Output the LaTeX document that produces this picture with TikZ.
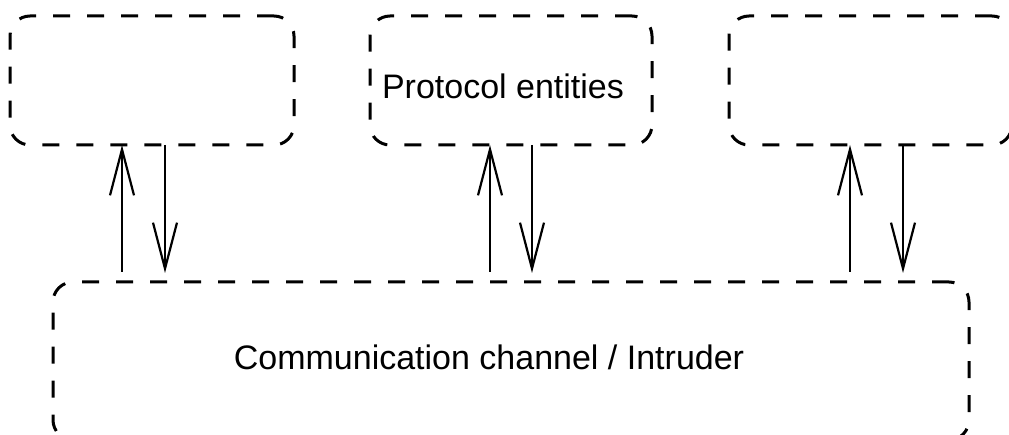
\documentclass[tikz,border=0pt]{standalone}
\usepackage{fontspec}
\setmainfont{Liberation Sans}
\usetikzlibrary{arrows.meta}
\begin{document}
\begin{tikzpicture}[x=1pt,y=-1pt,
  entity/.style={draw, line width=3pt, rounded corners=20pt,
    dash pattern=on 17pt off 17pt, inner sep=0pt, outer sep=0pt},
  msg/.style={line width=2.2pt, -{Straight Barb[length=46pt,width=24pt,line width=2.2pt]}},
  txt/.style={font=\fontsize{34}{41}\selectfont, inner sep=0pt}]
\useasboundingbox (0,0) rectangle (1009,435);
\clip (0,0) rectangle (1009,435);
% protocol entities
\node[entity, minimum width=284pt, minimum height=129pt] (e1) at (152,80.5) {};
\node[entity, minimum width=282pt, minimum height=129pt] (e2) at (511,80.5) {};
\node[entity, minimum width=283pt, minimum height=129pt] (e3) at (870.5,80.5) {};
\node[txt] (lbl) at (503,86) {Protocol entities};
% channel
\node[entity, minimum width=916pt, minimum height=158pt] (ch) at (511,361) {};
\node[txt] (chl) at (489,357) {Communication channel / Intruder};
% messages in both directions
\draw[msg, shorten <=10pt] (122,0 |- ch.north) -- (122,0 |- e1.south);
\draw[msg, shorten >=9pt] (165,0 |- e1.south) -- (165,0 |- ch.north);
\draw[msg, shorten <=10pt] (490,0 |- ch.north) -- (490,0 |- e2.south);
\draw[msg, shorten >=9pt] (532,0 |- e2.south) -- (532,0 |- ch.north);
\draw[msg, shorten <=10pt] (850,0 |- ch.north) -- (850,0 |- e3.south);
\draw[msg, shorten >=9pt] (903,0 |- e3.south) -- (903,0 |- ch.north);
\end{tikzpicture}
\end{document}
